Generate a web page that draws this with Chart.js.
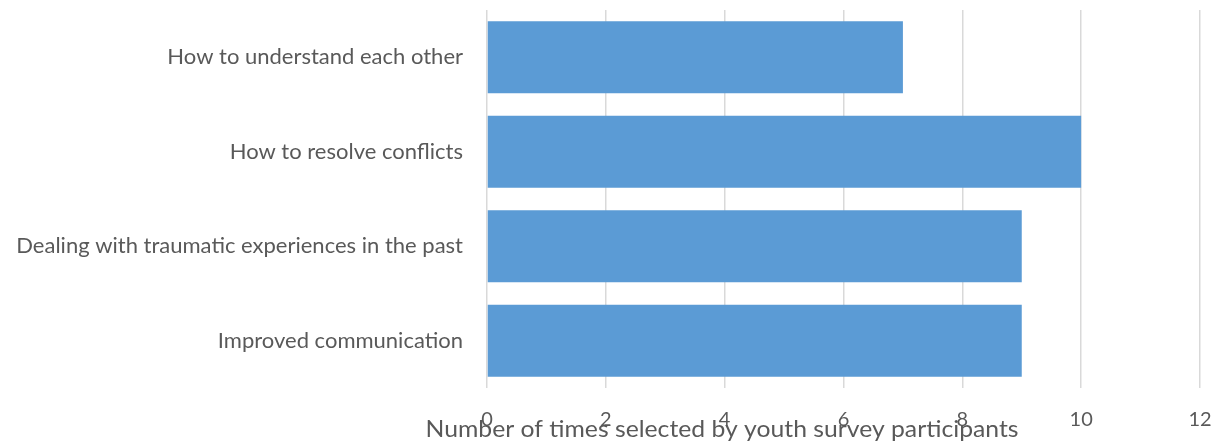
<!DOCTYPE html>
<html><head><meta charset="utf-8">
<script src="https://cdn.jsdelivr.net/npm/chart.js@4"></script>
<style>html,body{margin:0;padding:0;background:#fff;overflow:hidden}#wrap{width:1221px;height:445px;position:relative}</style>
</head><body><div id="wrap"><canvas id="c"></canvas></div>
<script>
const categories = ["How to understand each other","How to resolve conflicts","Dealing with traumatic experiences in the past","Improved communication"];
const values = [7, 10, 9, 9];
const xTicks = [0, 2, 4, 6, 8, 10, 12];
const axisTitle = "Number of times selected by youth survey participants";

const titlePlugin = {
  id: 'axisTitleOverlay',
  afterDraw(chart) {
    const ctx = chart.ctx;
    ctx.save();
    ctx.font = '24px Lato, sans-serif';
    ctx.fillStyle = '#595959';
    ctx.textAlign = 'center';
    ctx.textBaseline = 'alphabetic';
    const w = ctx.measureText(axisTitle).width;
    const sx = 593 / w;
    ctx.translate(722, 437);
    ctx.scale(sx, 1);
    ctx.fillText(axisTitle, 0, 0);
    ctx.restore();
  }
};

new Chart(document.getElementById('c'), {
  type: 'bar',
  data: { labels: categories, datasets: [{ data: values, backgroundColor: '#5B9BD5', borderWidth: 0, barPercentage: 0.76, categoryPercentage: 1 }] },
  options: {
    indexAxis: 'y', responsive: true, maintainAspectRatio: false, animation: false,
    layout: { padding: { top: 10, right: 21, bottom: 13, left: 0 } },
    plugins: { legend: { display: false }, tooltip: { enabled: false } },
    scales: {
      x: {
        min: 0, max: 12,
        afterBuildTicks(scale) { scale.ticks = xTicks.map(v => ({ value: v })); },
        afterFit(scale) { scale.paddingLeft = 0; scale.paddingRight = 0; scale.height = 44; },
        grid: { color: '#d9d9d9', lineWidth: 1.5, drawTicks: false },
        border: { display: false },
        ticks: { padding: 20, color: '#595959', font: { family: 'Lato', size: 20 } }
      },
      y: {
        afterFit(scale) { scale.width = 487; scale.paddingTop = 0; scale.paddingBottom = 0; },
        grid: { display: false, drawTicks: false },
        border: { display: false },
        ticks: { padding: 24, color: '#595959', font: { family: 'Lato', size: 22 } }
      }
    }
  },
  plugins: [titlePlugin]
});
</script></body></html>
